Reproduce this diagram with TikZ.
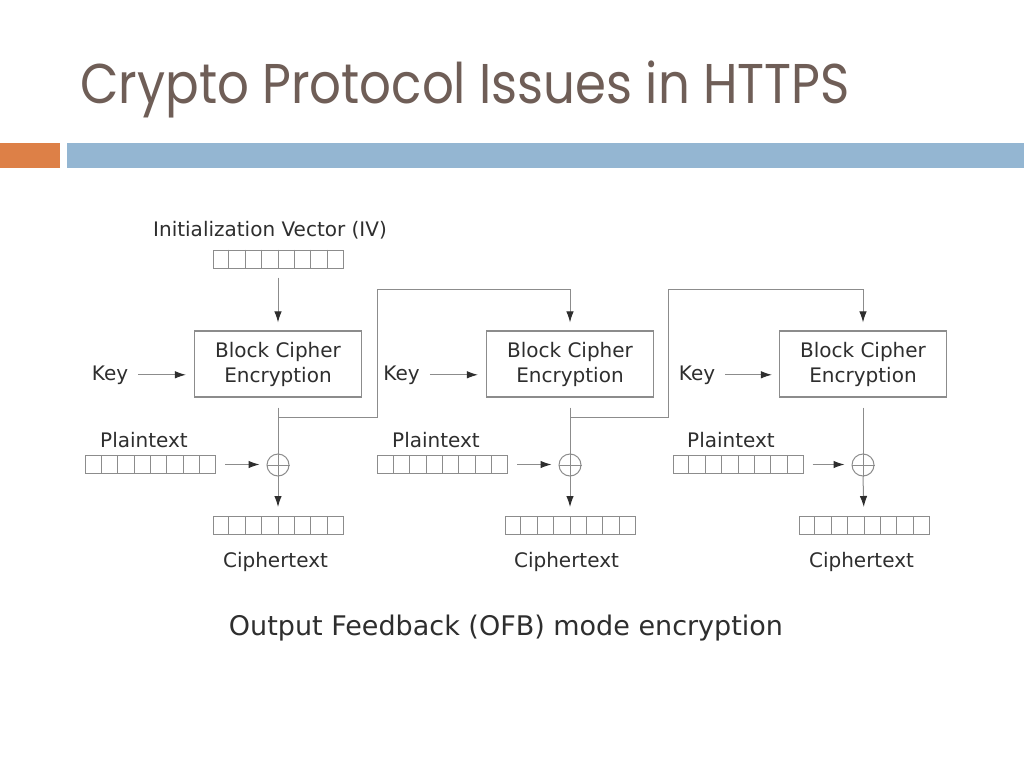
\documentclass[tikz,border=0pt]{standalone}
\usepackage{fontspec}
\setmainfont{DejaVu Sans}
\newfontfamily\titlefont[FakeStretch=0.89]{Poppins}
\usetikzlibrary{positioning,calc,arrows.meta}

\definecolor{titlebrown}{HTML}{6F5E57}
\definecolor{barorange}{HTML}{DD8047}
\definecolor{barblue}{HTML}{94B6D2}
\definecolor{linegray}{HTML}{8C8C8C}
\definecolor{txtgray}{HTML}{2E2E2E}

\tikzset{
  cipherbox/.style={draw=linegray, line width=1.2pt, minimum width=167pt, minimum height=66pt,
    align=center, text=txtgray, font=\fontsize{20}{25}\selectfont},
  regcells/.style={draw=linegray, line width=1pt, minimum width=130pt, minimum height=18pt, inner sep=0pt},
  lbl/.style={inner sep=0pt, anchor=base, text=txtgray, font=\fontsize{20}{24}\selectfont},
  xorsym/.style={circle, draw=linegray, line width=1pt, minimum size=22pt, inner sep=0pt},
  link/.style={draw=linegray, line width=1pt},
  arr/.style={link, -{Latex[length=11pt,width=7.5pt,color=txtgray]}}
}

\begin{document}
\begin{tikzpicture}[x=1pt,y=-1pt]

  \fill[white] (0,0) rectangle (1024,768);
  \useasboundingbox (0,0) rectangle (1024,768);

  % slide title and bars
  \node[anchor=base west, inner sep=0pt, text=titlebrown, font=\titlefont\fontsize{56}{60}\selectfont]
    (title) at (80,103) {Crypto Protocol Issues in HTTPS};
  \fill[barorange] (0,143) rectangle (60,168);
  \fill[barblue] (67,143) rectangle (1024,168);

  % labels
  \node[lbl] (ivlbl) at (270,236) {Initialization Vector (IV)};
  \node[lbl] (key1) at (110,380) {Key};
  \node[lbl] (key2) at (401.5,380) {Key};
  \node[lbl] (key3) at (697,380) {Key};
  \node[lbl] (ptlbl1) at (144,447) {Plaintext};
  \node[lbl] (ptlbl2) at (436,447) {Plaintext};
  \node[lbl] (ptlbl3) at (731,447) {Plaintext};
  \node[lbl] (ctlbl1) at (275.5,567) {Ciphertext};
  \node[lbl] (ctlbl2) at (566.5,567) {Ciphertext};
  \node[lbl] (ctlbl3) at (861.5,567) {Ciphertext};
  \node[lbl, font=\fontsize{27}{30}\selectfont] (caption) at (506,635) {Output Feedback (OFB) mode encryption};

  % cipher blocks
  \node[cipherbox] (enc1) at (278,364) {Block Cipher\\Encryption};
  \node[cipherbox] (enc2) at (570,364) {Block Cipher\\Encryption};
  \node[cipherbox] (enc3) at (863,364) {Block Cipher\\Encryption};

  % 8-cell registers
  \node[regcells] (iv)  at (278,259)   {};
  \node[regcells] (pt1) at (150.5,464.5) {};
  \node[regcells] (pt2) at (442.5,464.5) {};
  \node[regcells] (pt3) at (738,464.5)   {};
  \node[regcells] (ct1) at (278,525.5) {};
  \node[regcells] (ct2) at (570,525.5) {};
  \node[regcells] (ct3) at (864,525.5) {};
  \foreach \reg in {iv,pt1,pt2,pt3,ct1,ct2,ct3}
    \foreach \i in {1,...,7}
      \draw[link] ($(\reg.north west)!\i/8!(\reg.north east)$) -- ($(\reg.south west)!\i/8!(\reg.south east)$);

  % xor
  \node[xorsym] (xor1) at (278,465) {};
  \node[xorsym] (xor2) at (570,465) {};
  \node[xorsym] (xor3) at (863,465) {};
  \foreach \x in {xor1,xor2,xor3}
    \draw[link] (\x.west) -- (\x.east);

  \coordinate (br1) at (278,417);
  \coordinate (up1) at (377,289);
  \coordinate (br2) at (570,417);
  \coordinate (up2) at (668,289);

  % connectors
  \draw[arr, shorten <=9pt, shorten >=8pt] (iv) -- (enc1);
  \draw[arr, shorten <=10pt, shorten >=8pt] (key1.east) -- (key1.east -| enc1.west);
  \draw[arr, shorten <=10pt, shorten >=8pt] (key2.east) -- (key2.east -| enc2.west);
  \draw[arr, shorten <=10pt, shorten >=7pt] (key3.east) -- (key3.east -| enc3.west);
  \draw[link, shorten <=10pt] (enc1.south) -- (xor1.south);
  \draw[link, shorten <=10pt] (enc2.south) -- (xor2.south);
  \draw[link, shorten <=10pt] (enc3.south) -- (xor3.south);
  \draw[arr, shorten >=8pt] (br1) -| (up1) -| (enc2.north);
  \draw[arr, shorten >=8pt] (br2) -| (up2) -| (enc3.north);
  \draw[arr, shorten <=9pt, shorten >=7pt] (pt1.east) -- (pt1.east -| xor1.west);
  \draw[arr, shorten <=9pt, shorten >=7pt] (pt2.east) -- (pt2.east -| xor2.west);
  \draw[arr, shorten <=9pt, shorten >=7pt] (pt3.east) -- (pt3.east -| xor3.west);
  \draw[arr, shorten >=9pt] (xor1.south) -- (ct1.north);
  \draw[arr, shorten >=9pt] (xor2.south) -- (ct2.north);
  \draw[arr, shorten >=9pt] (xor3.south) -- (ct3.north);

\end{tikzpicture}
\end{document}
